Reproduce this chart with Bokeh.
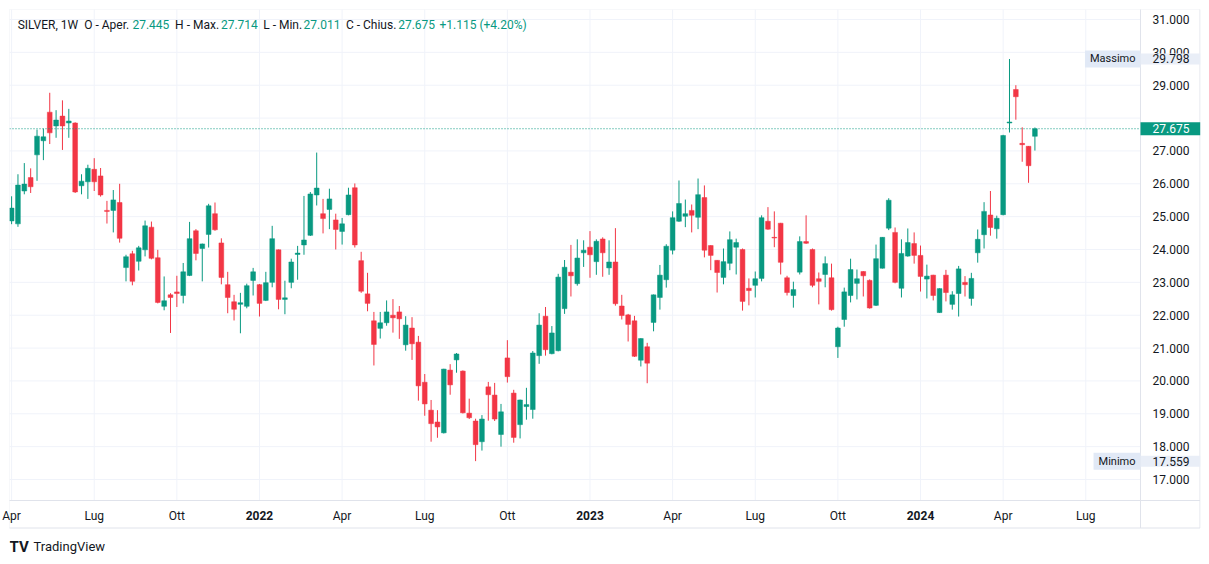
import pandas as pd
from bokeh.plotting import figure
from bokeh.models import ColumnDataSource, FixedTicker, Label, NumeralTickFormatter
from bokeh.embed import file_html
from bokeh.resources import INLINE

# ---- data: weekly SILVER candles ----
first_week = "2021-04-05"
opens = [24.87, 24.78, 25.78, 26.19, 26.88, 27.31, 28.18, 27.76, 28.06, 27.85,
         27.85, 25.94, 26.06, 26.44, 26.24, 25.19, 25.19, 25.43, 23.45, 23.87,
         23.64, 23.99, 24.68, 23.75, 22.27, 22.62, 22.71, 22.60, 23.21, 24.57,
         24.03, 24.46, 25.09, 24.20, 22.93, 22.41, 22.33, 22.27, 23.06, 22.93,
         22.45, 23.00, 23.99, 22.48, 23.00, 23.85, 24.14, 24.43, 25.66, 25.09,
         25.22, 24.90, 24.55, 25.06, 25.88, 23.66, 22.65, 21.83, 21.60, 21.77,
         22.00, 22.10, 21.10, 21.61, 21.18, 19.96, 19.11, 18.75, 18.42, 20.33,
         20.64, 20.30, 19.02, 18.78, 18.15, 19.82, 19.57, 18.37, 20.70, 19.63,
         18.67, 19.22, 19.13, 20.77, 21.97, 20.83, 20.92, 22.20, 23.31, 22.96,
         23.90, 24.07, 23.63, 24.32, 23.44, 23.62, 22.28, 22.01, 21.83, 20.63,
         21.04, 21.78, 22.54, 23.08, 23.98, 24.86, 25.01, 25.19, 24.98, 25.58,
         24.12, 23.67, 23.15, 23.58, 24.07, 24.00, 22.82, 22.91, 23.12, 24.86,
         24.37, 24.80, 23.14, 22.60, 23.31, 24.24, 24.00, 23.11, 23.24, 23.14,
         21.04, 21.87, 22.60, 22.97, 23.33, 23.06, 22.30, 23.43, 24.65, 24.52,
         22.82, 23.80, 24.18, 23.82, 23.10, 23.22, 22.08, 23.22, 22.33, 22.66,
         23.00, 22.51, 23.90, 24.45, 25.05, 24.63, 25.06, 27.85, 28.87, 27.23,
         27.14, 27.445]
highs = [25.62, 26.29, 26.63, 26.47, 27.65, 27.68, 28.77, 28.24, 28.54, 28.28,
         27.87, 26.29, 26.58, 26.78, 26.48, 25.48, 25.81, 26.00, 23.84, 23.96,
         24.11, 24.88, 24.85, 23.99, 23.18, 22.67, 23.20, 23.59, 24.84, 24.62,
         24.18, 25.39, 25.43, 24.34, 23.32, 22.62, 22.68, 22.96, 23.44, 22.95,
         23.32, 24.72, 24.00, 23.05, 23.72, 24.11, 25.63, 25.75, 26.95, 25.54,
         25.85, 25.09, 24.96, 25.88, 26.01, 23.93, 23.29, 22.10, 22.10, 22.45,
         22.49, 22.28, 21.97, 21.94, 21.37, 20.21, 19.42, 19.11, 20.37, 20.51,
         20.85, 20.32, 19.46, 18.85, 18.96, 19.97, 19.94, 19.30, 21.24, 19.73,
         19.43, 19.79, 20.91, 22.06, 22.25, 21.67, 23.26, 23.68, 24.14, 24.31,
         24.28, 24.56, 24.31, 24.37, 24.28, 24.65, 22.62, 22.04, 21.98, 21.30,
         21.16, 22.63, 23.53, 24.16, 25.16, 26.10, 25.52, 25.37, 26.16, 25.95,
         24.13, 23.68, 24.03, 24.55, 24.33, 24.03, 23.12, 23.33, 25.04, 25.29,
         25.16, 24.81, 23.20, 23.02, 24.40, 25.04, 24.03, 23.30, 23.79, 23.57,
         21.65, 22.84, 23.72, 23.39, 23.34, 23.09, 24.15, 24.38, 25.56, 24.67,
         24.31, 24.64, 24.52, 24.12, 23.54, 23.23, 22.82, 23.38, 22.73, 23.50,
         23.19, 23.29, 24.61, 25.44, 25.78, 25.03, 27.49, 29.798, 29.00, 27.72,
         27.15, 27.714]
lows = [24.77, 24.69, 25.68, 25.72, 26.09, 26.72, 27.21, 27.40, 27.03, 27.40,
        25.72, 25.68, 25.54, 25.78, 25.61, 24.79, 24.52, 24.21, 23.03, 22.91,
        23.36, 23.79, 23.70, 22.36, 22.15, 21.46, 22.25, 22.36, 23.19, 23.67,
        23.03, 24.06, 24.57, 22.94, 22.06, 21.84, 21.45, 22.21, 22.60, 21.96,
        22.43, 22.85, 22.18, 22.03, 22.82, 23.08, 23.84, 24.41, 25.34, 24.49,
        24.62, 24.00, 24.15, 25.04, 24.06, 22.68, 22.12, 20.47, 21.29, 21.68,
        21.47, 21.28, 20.92, 20.64, 19.40, 18.94, 18.15, 18.27, 18.40, 19.58,
        20.25, 19.01, 18.84, 17.559, 17.88, 18.79, 18.78, 18.00, 19.95, 18.12,
        18.25, 18.82, 18.85, 20.52, 20.77, 20.81, 20.90, 22.04, 22.57, 22.90,
        23.47, 23.14, 23.23, 23.17, 23.23, 22.29, 21.87, 21.20, 20.73, 20.44,
        19.93, 21.51, 22.17, 22.84, 23.85, 24.84, 24.68, 24.52, 24.62, 23.76,
        23.37, 22.69, 22.94, 23.37, 23.24, 22.14, 22.30, 22.54, 23.03, 24.60,
        24.07, 23.24, 22.60, 22.23, 23.24, 24.17, 22.85, 22.33, 22.85, 22.14,
        20.70, 21.65, 22.39, 22.48, 22.57, 22.20, 22.28, 23.42, 24.59, 22.97,
        22.54, 23.78, 23.57, 22.72, 22.51, 22.45, 22.07, 22.42, 22.17, 21.96,
        22.57, 22.29, 23.60, 24.03, 24.42, 24.33, 25.04, 27.56, 27.95, 26.67,
        26.03, 27.011]
closes = [25.26, 25.96, 25.99, 25.91, 27.45, 27.43, 27.55, 27.94, 27.76, 27.91,
          25.75, 26.08, 26.47, 26.06, 25.66, 25.16, 25.51, 24.34, 23.78, 23.03,
          24.05, 24.72, 23.73, 22.39, 22.44, 22.54, 22.66, 23.32, 24.33, 23.88,
          24.17, 25.33, 24.60, 23.15, 22.54, 22.18, 22.38, 22.90, 23.32, 22.36,
          22.99, 24.33, 22.48, 22.53, 23.62, 23.89, 24.29, 25.69, 25.87, 24.94,
          25.54, 24.61, 24.78, 25.66, 24.14, 22.73, 22.36, 21.11, 21.77, 22.10,
          21.92, 21.89, 21.70, 21.13, 19.85, 19.30, 18.70, 18.60, 20.36, 19.88,
          20.82, 19.03, 18.88, 18.06, 18.84, 19.58, 18.84, 19.06, 20.13, 18.28,
          19.42, 19.28, 20.85, 21.70, 20.95, 21.46, 23.16, 23.46, 23.20, 23.74,
          23.98, 23.84, 24.25, 23.90, 23.62, 22.35, 21.99, 21.72, 20.75, 21.29,
          20.54, 22.62, 23.22, 24.10, 24.97, 25.40, 25.09, 25.04, 25.67, 23.98,
          23.82, 23.30, 23.63, 24.30, 24.21, 22.42, 22.75, 23.11, 24.97, 24.62,
          24.35, 23.61, 22.69, 22.78, 24.24, 24.19, 22.91, 23.03, 23.57, 22.17,
          21.61, 22.71, 23.39, 23.11, 23.20, 22.22, 23.72, 24.37, 25.50, 23.00,
          23.88, 24.21, 23.82, 23.18, 23.19, 22.60, 22.81, 22.69, 22.62, 23.41,
          22.93, 23.12, 24.31, 25.16, 24.67, 24.95, 27.47, 27.88, 28.65, 27.19,
          26.55, 27.675]

month_names = ["Gen", "Feb", "Mar", "Apr", "Mag", "Giu", "Lug", "Ago", "Set", "Ott", "Nov", "Dic"]
axis_months = [("2021", 4), ("2021", 7), ("2021", 10), ("2022", 1), ("2022", 4), ("2022", 7),
               ("2022", 10), ("2023", 1), ("2023", 4), ("2023", 7), ("2023", 10), ("2024", 1),
               ("2024", 4), ("2024", 7)]
price_ticks = list(range(17, 32))
last_open, last_high, last_low, last_close = 27.445, 27.714, 27.011, 27.675
change, change_pct = 1.115, 4.20

UP = "#089981"
DOWN = "#f23645"
TXT = "#131722"
GRID = "#f0f3fa"
BORDER = "#e0e3eb"
TAGBG = "#e9eef7"
NAMEBG = "#e1e9f6"
FONT = "Roboto"

n = len(opens)
dates = pd.date_range(first_week, periods=n + 30, freq="7D")
idx = list(range(n))
colors = [UP if c >= o else DOWN for o, c in zip(opens, closes)]
src = ColumnDataSource(dict(x=idx, o=opens, h=highs, l=lows, c=closes,
                            top=[max(o, c) for o, c in zip(opens, closes)],
                            bot=[min(o, c) for o, c in zip(opens, closes)],
                            col=colors))

# tick positions: first weekly bar of each labelled month
tick_pos, tick_lab, year_pos, year_lab = [], [], [], []
for y, m in axis_months:
    start = pd.Timestamp(int(y), m, 1)
    k = int((dates >= start).argmax())
    tick_pos.append(k)
    if m == 1:
        tick_lab.append("")
        year_pos.append(k)
        year_lab.append(y)
    else:
        tick_lab.append(month_names[m - 1])

# pixel geometry: the frame covers page x 9..1200, y 9..561 (chart, scales and logo strip)
FW, FH = 1191, 552
px_per_bar = 6.356
x0 = -(11.1 - 9) / px_per_bar
x1 = x0 + FW / px_per_bar
ppu = 32.857
ytop = 31 + 10 / ppu
ybot = ytop - FH / ppu


def xd(px):  # page x -> data x
    return x0 + (px - 9) / px_per_bar


def yd(py):  # page y -> data y
    return ytop - (py - 9) / ppu


PR = xd(1140)     # right edge of the candle pane (price scale starts here)
TB = yd(500)      # bottom edge of the candle pane (time scale starts here)

p = figure(frame_width=FW, frame_height=FH, x_range=(x0, x1), y_range=(ybot, ytop),
           output_backend="svg", toolbar_location=None, tools="",
           y_axis_location="right",
           min_border_left=9, min_border_top=9, min_border_right=1, min_border_bottom=1)
p.background_fill_color = "white"
p.border_fill_color = "white"
p.outline_line_color = None
p.grid.visible = False

# grid of the candle pane
p.segment(x0=tick_pos, y0=[TB] * len(tick_pos), x1=tick_pos, y1=[ytop] * len(tick_pos),
          line_color=GRID, line_width=1)
p.segment(x0=[x0] * len(price_ticks), y0=price_ticks, x1=[PR] * len(price_ticks),
          y1=price_ticks, line_color=GRID, line_width=1)

# candles
p.segment(x0="x", y0="l", x1="x", y1="h", line_color="col", line_width=1, source=src)
p.vbar(x="x", top="top", bottom="bot", width=0.75, fill_color="col", line_color="col",
       line_width=0.5, source=src)

# last price dotted line
p.segment(x0=[x0], y0=[last_close], x1=[PR], y1=[last_close], line_color=UP,
          line_dash="1 2", line_width=1)

# pane separators and the outer box of the widget
L, R, T, B = xd(8.5), xd(1199.5), yd(8.5), yd(527.5)
p.segment(x0=[PR, L, L, L, R, L], y0=[T, TB, T, B, T, T],
          x1=[PR, R, R, R, R, L], y1=[B, TB, T, B, B, B],
          line_color=BORDER, line_width=1)


def plain(ax, standoff):
    ax.major_tick_line_color = None
    ax.minor_tick_line_color = None
    ax.major_tick_out = 0
    ax.major_tick_in = 0
    ax.minor_tick_out = 0
    ax.minor_tick_in = 0
    ax.axis_line_color = None
    ax.major_label_text_font = FONT
    ax.major_label_text_font_size = "12px"
    ax.major_label_text_color = TXT
    ax.major_label_standoff = standoff


# time scale (labels placed back inside the strip under the candle pane)
xa = p.xaxis[0]
plain(xa, standoff=-(561 - 508))
xa.ticker = FixedTicker(ticks=tick_pos)
xa.major_label_overrides = {k: v for k, v in zip(tick_pos, tick_lab)}

# price scale
ya = p.yaxis[0]
plain(ya, standoff=-(1200 - 1152))
ya.ticker = FixedTicker(ticks=price_ticks)
ya.formatter = NumeralTickFormatter(format="0.000")
ya.major_label_overrides = {28: ""}

# bold year labels on the time scale
for k, yl in zip(year_pos, year_lab):
    p.add_layout(Label(x=k, y=yd(515), text=yl, text_align="center",
                       text_baseline="middle", text_font=FONT,
                       text_font_size="12px", text_font_style="bold", text_color=TXT))

# price tags on the price scale (padding = left, right, top, bottom)
p.add_layout(Label(x=PR, y=last_close, text=f"{last_close:.3f}",
                   text_baseline="middle", text_font=FONT, text_font_size="12px",
                   text_color="white", background_fill_color=UP, padding=(12, 11, 2, 2)))
mx, mn = max(highs), min(lows)
for val, name in [(mx, "Massimo"), (mn, "Minimo")]:
    p.add_layout(Label(x=PR, y=val, text=f"{val:.3f}",
                       text_baseline="middle", text_font=FONT, text_font_size="12px",
                       text_color=TXT, background_fill_color=TAGBG, padding=(12, 11, 1, 1)))
    p.add_layout(Label(x=PR, y=val, text=name, text_align="right",
                       text_baseline="middle", text_font=FONT, text_font_size="11px",
                       text_color=TXT, background_fill_color=NAMEBG, padding=(5, 5, 2, 2)))

# header legend (screen x from the left of the frame)
hy = yd(24)
segs = [(8.2, "SILVER, 1W", TXT), (74.7, "O - Aper.", TXT), (122.9, f"{last_open:.3f}", UP),
        (165.6, "H - Max.", TXT), (211.4, f"{last_high:.3f}", UP),
        (253.7, "L - Min.", TXT), (294.0, f"{last_low:.3f}", UP),
        (336.4, "C - Chius.", TXT), (388.7, f"{last_close:.3f}", UP),
        (430.0, f"+{change:.3f} (+{change_pct:.2f}%)", UP)]
for xs, t, c in segs:
    p.add_layout(Label(x=xs, x_units="screen", y=hy, text=t, text_baseline="middle",
                       text_font=FONT, text_font_size="12px", text_color=c))

# TradingView logo
p.add_layout(Label(x=xd(9), y=yd(546), text="TV", text_baseline="middle",
                   text_font=FONT, text_font_size="15px", text_font_style="bold",
                   text_color=TXT))
p.add_layout(Label(x=xd(33), y=yd(546), text="TradingView", text_baseline="middle",
                   text_font=FONT, text_font_size="13px", text_color=TXT))

open("out.html", "w").write(file_html(p, INLINE))
